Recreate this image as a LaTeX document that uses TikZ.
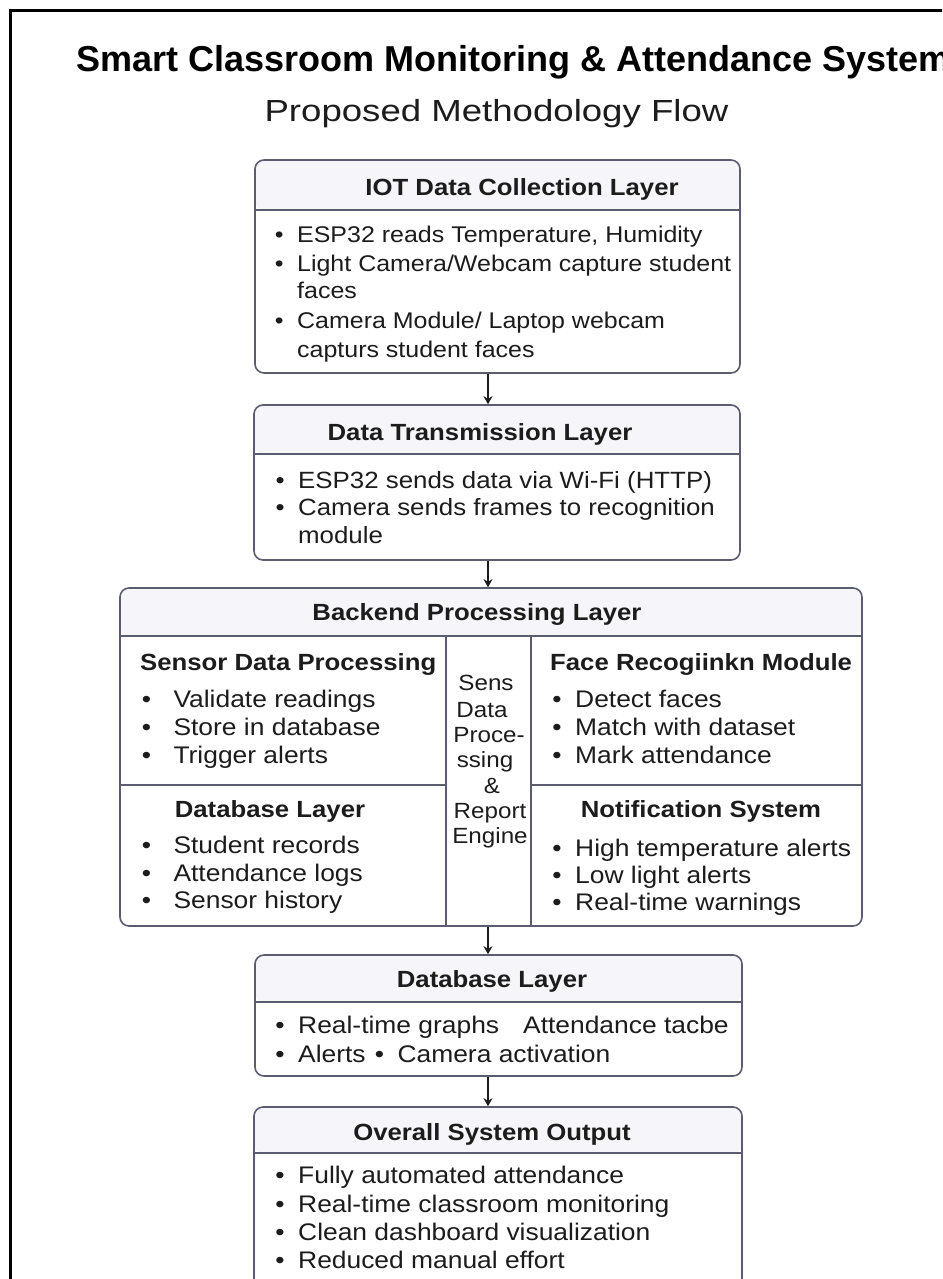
\documentclass[tikz,border=0pt]{standalone}
\usepackage{fontspec}
\setmainfont{Liberation Sans}[FakeStretch=1.1]
\newfontfamily\titlefont{Liberation Sans}
\newfontfamily\subfont{Liberation Sans}[FakeStretch=1.2]
\usetikzlibrary{arrows.meta}
\definecolor{strk}{HTML}{5C5C70}
\definecolor{hdr}{HTML}{F6F6FA}
\definecolor{ink}{HTML}{1C1C1C}
\newcommand\fsz[1]{\fontsize{#1pt}{#1pt}\selectfont}
\newcommand\bul[1][13.5pt]{\llap{•\hspace{#1}}}
\begin{document}
\begin{tikzpicture}[x=1pt,y=-1pt,
  lbox/.style={draw=strk, line width=1.6pt, rounded corners=9pt, fill=white, inner sep=0pt,
    path picture={\fill[hdr] (path picture bounding box.north west) rectangle ([yshift=-#1]path picture bounding box.north east);
      \draw[strk,line width=1.6pt] ([yshift=-#1]path picture bounding box.north west) -- ([yshift=-#1]path picture bounding box.north east);}},
  head/.style={anchor=base, font=\fsz{23.4}\bfseries, text=ink, inner sep=0pt},
  body/.style={anchor=base west, font=\fsz{24}, text=ink, inner sep=0pt},
  midt/.style={anchor=base, font=\fsz{22}, text=ink, inner sep=0pt},
  arr/.style={-{Stealth[length=8pt,width=9pt]}, line width=1.8pt, draw=ink},
  sep/.style={draw=strk, line width=1.6pt},
]
\useasboundingbox (0,0) rectangle (942,1279);
\begin{scope}
\clip (0,0) rectangle (942,1279);
\fill[white] (0,0) rectangle (942,1279);
\draw[line width=3pt, black] (10,11) rectangle (1000,1400);

% title
\node[anchor=base west, inner sep=0pt, font=\titlefont\fsz{36}\bfseries, text=black] (title) at (76,72) {Smart Classroom Monitoring \& Attendance System};
\node[anchor=base, inner sep=0pt, font=\subfont\fsz{30.5}, text=ink] (subtitle) at (496.5,122) {Proposed Methodology Flow};

% boxes
\node[lbox=50pt, minimum width=485pt, minimum height=213pt] (iot) at (497.5,266.5) {};
\node[lbox=49pt, minimum width=486pt, minimum height=155pt] (tx) at (497,482.5) {};
\node[lbox=48pt, minimum width=742pt, minimum height=338pt] (be) at (491,757) {};
\node[lbox=47pt, minimum width=487pt, minimum height=121pt] (db) at (498.5,1015.5) {};
\node[lbox=46pt, minimum width=488pt, minimum height=240pt] (out) at (498,1227) {};

% backend internal grid
\draw[sep] (446,636) -- (446,926);
\draw[sep] (531,636) -- (531,926);
\draw[sep] (120,785) -- (446,785);
\draw[sep] (531,785) -- (862,785);

% IOT box
\node[head] (h1) at (522,195) {IOT Data Collection Layer};
\node[body, font=\fsz{22.7}] (a1) at (297,242) {\bul ESP32 reads Temperature, Humidity};
\node[body, font=\fsz{22.7}] (a2) at (297,271) {\bul Light Camera/Webcam capture student};
\node[body, font=\fsz{22.7}] (a3) at (297,298) {faces};
\node[body, font=\fsz{22.7}] (a4) at (297,328) {\bul Camera Module/ Laptop webcam};
\node[body, font=\fsz{22.7}] (a5) at (297,357) {capturs student faces};

% Transmission box
\node[head] (h2) at (480,440) {Data Transmission Layer};
\node[body, font=\fsz{23.5}] (b1) at (298,488) {\bul ESP32 sends data via Wi-Fi (HTTP)};
\node[body, font=\fsz{23.5}] (b2) at (298,515) {\bul Camera sends frames to recognition};
\node[body, font=\fsz{23.5}] (b3) at (298,543) {module};

% Backend
\node[head] (h3) at (477,620) {Backend Processing Layer};
\node[head, anchor=base west] (c0) at (140,670) {Sensor Data Processing};
\node[body] (c1) at (166,707) {\bul[15pt] Validate readings};
\node[body] (c2) at (166,735) {\bul[15pt] Store in database};
\node[body] (c3) at (166,763) {\bul[15pt] Trigger alerts};
\node[head] (d0) at (270,817) {Database Layer};
\node[body] (d1) at (166,853) {\bul[15pt] Student records};
\node[body] (d2) at (166,881) {\bul[15pt] Attendance logs};
\node[body] (d3) at (166,908) {\bul[15pt] Sensor history};
\node[head, anchor=base west] (e0) at (550,670) {Face Recogiinkn Module};
\node[body] (e1) at (575,707) {\bul Detect faces};
\node[body] (e2) at (575,735) {\bul Match with dataset};
\node[body] (e3) at (575,763) {\bul Mark attendance};
\node[head] (f0) at (701,817) {Notification System};
\node[body] (f1) at (575,856) {\bul High temperature alerts};
\node[body] (f2) at (575,883) {\bul Low light alerts};
\node[body] (f3) at (575,910) {\bul Real-time warnings};
\node[midt] (m1) at (486,690) {Sens};
\node[midt] (m2) at (482,717) {Data};
\node[midt] (m3) at (489,742) {Proce-};
\node[midt] (m4) at (485,767) {ssing};
\node[midt] (m5) at (492,793) {\&};
\node[midt] (m6) at (490,818) {Report};
\node[midt] (m7) at (490,843) {Engine};

% Database layer
\node[head] (h4) at (492,987) {Database Layer};
\node[body] (g1) at (298,1033) {\bul Real-time graphs\hspace{24pt}Attendance tacbe};
\node[body] (g2) at (298,1062) {\bul Alerts \hspace{2pt}•\hspace{6pt} Camera activation};

% Output
\node[head] (h5) at (492,1140) {Overall System Output};
\node[body] (o1) at (298,1183) {\bul Fully automated attendance};
\node[body] (o2) at (298,1212) {\bul Real-time classroom monitoring};
\node[body] (o3) at (298,1240) {\bul Clean dashboard visualization};
\node[body] (o4) at (298,1268) {\bul Reduced manual effort};

% arrows
\coordinate (ax) at (488,0);
\draw[arr] (iot.south -| ax) -- (tx.north -| ax);
\draw[arr] (tx.south -| ax) -- (be.north -| ax);
\draw[arr] (be.south -| ax) -- (db.north -| ax);
\draw[arr] (db.south -| ax) -- (out.north -| ax);
\end{scope}
\end{tikzpicture}
\end{document}
